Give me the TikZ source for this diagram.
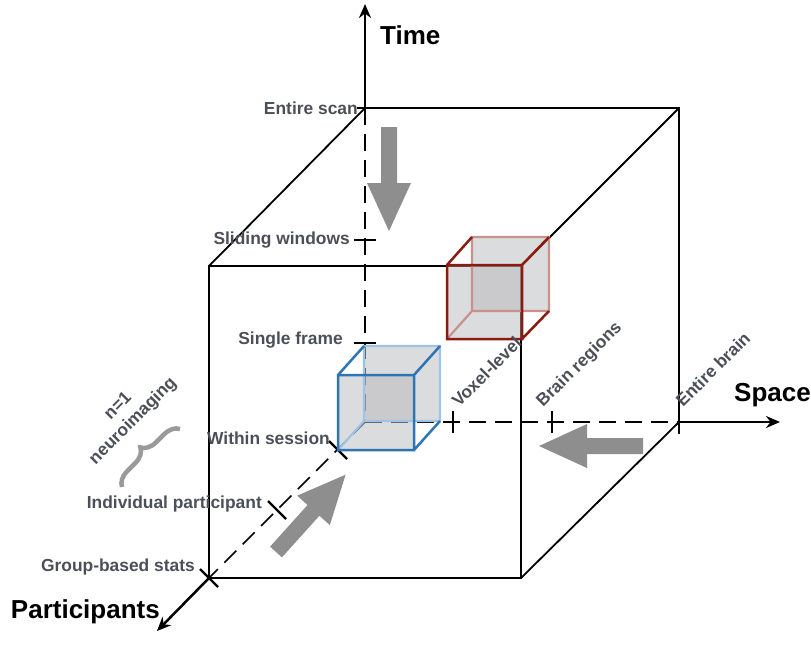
\documentclass[tikz,border=0pt]{standalone}
\usepackage{fontspec}
\setmainfont{Liberation Sans}
\usetikzlibrary{positioning,arrows.meta,decorations.pathreplacing}

\definecolor{lblgray}{HTML}{4B4F58}
\definecolor{flowgray}{HTML}{8E8E8E}
\definecolor{bracegray}{HTML}{9A9A9A}
\definecolor{bluedk}{HTML}{2E75B6}
\definecolor{bluelt}{HTML}{9DC3E6}
\definecolor{reddk}{HTML}{8B1A10}
\definecolor{redlt}{HTML}{C9918B}
\definecolor{facegray}{HTML}{B8B9BB}

\begin{document}
\begin{tikzpicture}[x=1pt,y=-1pt,>={Stealth[length=14pt,width=12pt]},
  edge/.style={line width=1.8pt},
  axis/.style={line width=2.5pt},
  hid/.style={line width=1.5pt,dash pattern=on 17pt off 9pt},
  tick/.style={line width=2.2pt},
  lbl/.style={font=\fontsize{17.4}{21}\selectfont\bfseries,text=lblgray,inner sep=1pt},
  axlbl/.style={font=\fontsize{26}{29}\selectfont\bfseries,inner sep=0pt},
  face/.style={fill=facegray,fill opacity=0.5},
  flowarrow/.pic={\fill[flowgray] (0,-8) -- (56,-8) -- (56,-22) -- (104,0) -- (56,22) -- (56,8) -- (0,8) -- cycle;}
]
\useasboundingbox (0,0) rectangle (811,654);

% big cube
\coordinate (fTL) at (209,266);
\coordinate (fTR) at (521,266);
\coordinate (fBR) at (521,578);
\coordinate (fBL) at (209,578);
\coordinate (bTL) at (365,108);
\coordinate (bTR) at (679,108);
\coordinate (bBR) at (679,422);
\coordinate (O) at (365,422);

% axis ends and ticks
\coordinate (tipT) at (365,4);
\coordinate (tipS) at (780,422);
\coordinate (tipP) at (157,631);
\coordinate (tsw) at (365,240);
\coordinate (tsf) at (365,343);
\coordinate (svox) at (453,422);
\coordinate (sreg) at (552,422);
\coordinate (pws) at (338,450);
\coordinate (pip) at (277,510);

\draw[hid] (bTL) -- (O);
\draw[hid] (O) -- (bBR);
\draw[hid] (O) -- (fBL);

\draw[edge] (fTL) -- (fTR) -- (fBR) -- (fBL) -- cycle;
\draw[edge] (fTL) -- (bTL) -- (bTR) -- (bBR) -- (fBR);
\draw[edge] (fTR) -- (bTR);

\draw[axis,->] (bTL) -- (tipT);
\draw[axis,->] (bBR) -- (tipS);
\draw[axis,->] (fBL) -- (tipP);

\draw[tick] (bTL) ++(-8,0) -- ++(24,0);
\draw[tick] (tsw) ++(-11,0) -- ++(22,0);
\draw[tick] (tsf) ++(-11,0) -- ++(22,0);
\draw[tick] (svox) ++(0,-11) -- ++(0,22);
\draw[tick] (sreg) ++(0,-11) -- ++(0,22);
\draw[tick] (bBR) ++(0,-12) -- ++(0,24);
\draw[tick] (pws) ++(-9,-9) -- ++(18,18);
\draw[tick] (pip) ++(-9,-9) -- ++(18,18);
\draw[tick] (fBL) ++(-9,-9) -- ++(18,18);

% red cube
\coordinate (rf1) at (447,265);
\coordinate (rf3) at (522,339);
\coordinate (rf2) at (522,265);
\coordinate (rf4) at (447,339);
\coordinate (rb1) at (472,237);
\coordinate (rb2) at (549,237);
\coordinate (rb3) at (549,311);
\coordinate (rb4) at (472,311);
\fill[face] (rb1) rectangle (rb3);
\fill[face] (rf1) rectangle (rf3);
\draw[line width=2.2pt,redlt] (rb1) rectangle (rb3) (rf4) -- (rb4);
\draw[line width=2.5pt,reddk] (rf1) rectangle (rf3) (rf1) -- (rb1) (rf2) -- (rb2) (rf3) -- (rb3);

% blue cube
\coordinate (cf1) at (338,375);
\coordinate (cf2) at (414,375);
\coordinate (cf3) at (414,450);
\coordinate (cf4) at (338,450);
\coordinate (cb1) at (364,346);
\coordinate (cb2) at (440,346);
\coordinate (cb3) at (440,421);
\coordinate (cb4) at (364,421);
\fill[face] (cb1) rectangle (cb3);
\fill[face] (cf1) rectangle (cf3);
\draw[line width=2.2pt,bluelt] (cb1) rectangle (cb3) (cf4) -- (cb4);
\draw[line width=2.5pt,bluedk] (cf1) rectangle (cf3) (cf1) -- (cb1) (cf2) -- (cb2) (cf3) -- (cb3);

% flow arrows
\pic[rotate=-90] at (389,127) {flowarrow};
\pic[rotate=180] at (643,446) {flowarrow};
\pic[rotate=48] at (276,552) {flowarrow};

% labels
\node[lbl,left=6pt of bTL] (lscan) {Entire scan};
\node[lbl,left=14pt of tsw] (lsw) {Sliding windows};
\node[lbl,anchor=east] (lsf) at (344,340) {Single frame};
\node[lbl,anchor=east] (lws) at (331,438) {Within session};
\node[lbl,anchor=east] (lip) at (263,504) {Individual participant};
\node[lbl,anchor=east] (lgb) at (196,567) {Group-based stats};
\node[lbl,rotate=45,anchor=base west,inner sep=0pt] (lvox) at (459,408) {Voxel-level};
\node[lbl,rotate=45,anchor=base west,inner sep=0pt] (lreg) at (543,408) {Brain regions};
\node[lbl,rotate=45,anchor=base west,inner sep=0pt] (lent) at (683,408) {Entire brain};
\node[lbl,rotate=45,align=center] (lnone) at (126,414) {n=1\\neuroimaging};
\draw[bracegray,line width=4.5pt,decorate,decoration={brace,amplitude=15pt}] (122,487) -- (180,429);

\node[axlbl,anchor=west] (ltime) at (380,35) {Time};
\node[axlbl,anchor=west] (lspace) at (734,395) {Space};
\node[axlbl,anchor=east] (lpart) at (160,612) {Participants};
\end{tikzpicture}
\end{document}
